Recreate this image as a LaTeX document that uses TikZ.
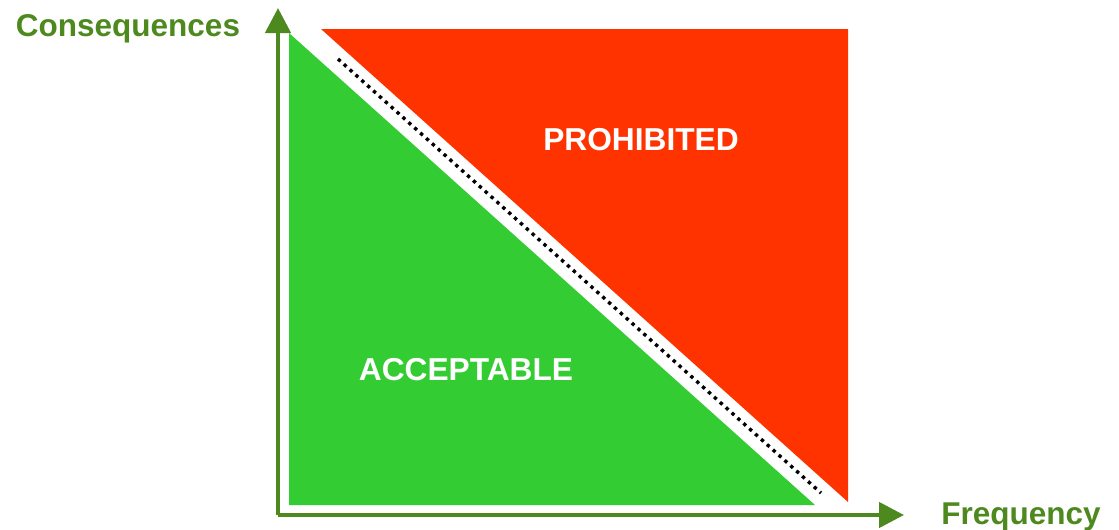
\documentclass[tikz,border=0pt]{standalone}
\usepackage{fontspec}
\setmainfont{Liberation Sans}
\usetikzlibrary{arrows.meta}
\definecolor{axisgreen}{RGB}{77,137,30}
\definecolor{accgreen}{RGB}{51,204,51}
\definecolor{prored}{RGB}{255,51,0}
\tikzset{
  axis/.style={draw=axisgreen, line width=4.5pt, -{Triangle[length=25pt,width=25pt]}},
  axislabel/.style={text=axisgreen, font=\bfseries\fontsize{31.5}{36}\selectfont, anchor=base, inner sep=0pt},
  zonelabel/.style={text=white, font=\bfseries\fontsize{31.7}{36}\selectfont, anchor=base, inner sep=0pt},
  boundary/.style={draw=black, line width=3.4pt, dash pattern=on 3.4pt off 4.5pt}
}
\begin{document}
\begin{tikzpicture}[x=1pt,y=-1pt]
\useasboundingbox (0,0) rectangle (1119,530);
% zones
\fill[accgreen] (289,33) -- (289,505) -- (815,505) -- cycle;
\fill[prored] (321,29) -- (848,29) -- (848,502) -- cycle;
% boundary
\coordinate (b1) at (338,59);
\coordinate (b2) at (821,493);
\draw[boundary] (b1) -- (b2);
% axes
\coordinate (o) at (278,515);
\coordinate (ytip) at (278,8);
\coordinate (xtip) at (904,515);
\draw[axis] (o) -- (ytip);
\draw[axis] (o) -- (xtip);
% labels
\node[axislabel] (cons) at (128,36) {Consequences};
\node[axislabel] (freq) at (1021,524) {Frequency};
\node[zonelabel] (pro) at (641,150) {PROHIBITED};
\node[zonelabel] (acc) at (466,380) {ACCEPTABLE};
\end{tikzpicture}
\end{document}
